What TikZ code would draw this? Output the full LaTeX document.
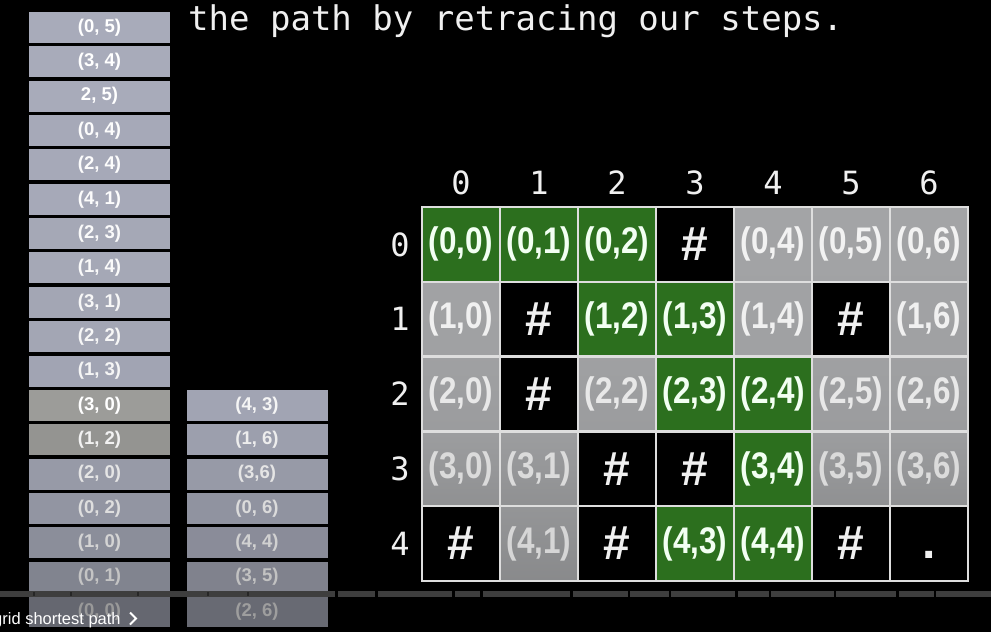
\documentclass[tikz,border=0pt]{standalone}
\usepackage{fontspec}
\setmainfont{Liberation Sans}
\newfontfamily\monofam{DejaVu Sans Mono}
\newfontfamily\narrowfam[FakeStretch=0.85]{Liberation Sans}
\usetikzlibrary{positioning}

\definecolor{stackblue}{RGB}{168,171,186}
\definecolor{stackgray}{RGB}{156,156,153}
\definecolor{pathgreen}{RGB}{44,111,30}
\definecolor{opengray}{RGB}{163,164,166}
\definecolor{gridline}{RGB}{222,222,222}
\definecolor{barfill}{RGB}{62,62,62}

\newcommand\cellmark[2]{\if#1k\#\else\if#1d.\else#2\fi\fi}

\tikzset{
  stackcell/.style={minimum width=141pt, minimum height=31pt, inner sep=0pt,
    font=\bfseries\fontsize{18.5}{20}\selectfont},
  cell/.style={minimum width=78pt, minimum height=74.8pt, inner sep=0pt,
    font=\narrowfam\bfseries\fontsize{37}{40}\selectfont},
  cellg/.style={fill=pathgreen, text=white!95!green},
  cello/.style={top color=opengray!\tl!black, bottom color=opengray!\bl!black, text=white!\tx!black},
  cellk/.style={fill=black, text=white!94!black, font=\bfseries\fontsize{48}{50}\selectfont},
  celld/.style={cellk, text height=30pt, text depth=0pt},
  idx/.style={inner sep=0pt, text=white!94!black, font=\monofam\fontsize{32}{34}\selectfont}
}

\begin{document}
\begin{tikzpicture}[x=1pt,y=-1pt]
	\useasboundingbox (0,0) rectangle (991,632);
	\clip (0,0) rectangle (991,632);
	\fill [black] (0,0) rectangle (991,632);

	\node [idx, anchor=base west, font=\monofam\fontsize{34}{36}\selectfont] (title) at (188,30) {the path by retracing our steps.};

	%pile gauche
	\foreach \lab/\col/\lvl [count=\i from 0] in {{(0, 5)}/stackblue/100, {(3, 4)}/stackblue/100, {2, 5)}/stackblue/100,
	  {(0, 4)}/stackblue/99, {(2, 4)}/stackblue/99, {(4, 1)}/stackblue/99, {(2, 3)}/stackblue/98, {(1, 4)}/stackblue/98,
	  {(3, 1)}/stackblue/97, {(2, 2)}/stackblue/97, {(1, 3)}/stackblue/96, {(3, 0)}/stackgray/100, {(1, 2)}/stackgray/95,
	  {(2, 0)}/stackblue/90, {(0, 2)}/stackblue/87, {(1, 0)}/stackblue/83, {(0, 1)}/stackblue/77, {(0, 0)}/stackblue/60}
	  \node [stackcell, fill=\col!\lvl!black, text=white!\lvl!black] (p\i) at (99.5,{27.5+34.35*\i}) {\lab};

	%pile droite
	\foreach \lab/\lvl [count=\j from 0] in {{(4, 3)}/96, {(1, 6)}/93, {(3,6)}/90, {(0, 6)}/86, {(4, 4)}/82, {(3, 5)}/76, {(2, 6)}/62}
	  \node [stackcell, fill=stackblue!\lvl!black, text=white!\lvl!black] (q\j) at (257,{405.4+34.35*\j}) {\lab};

	%grille
	\foreach \row/\types/\tl/\bl/\tx in {0/{g,g,g,k,o,o,o}/100/99/95, 1/{o,k,g,g,o,k,o}/99/98/94, 2/{o,k,o,g,g,o,o}/98/95/91,
	  3/{o,o,k,k,g,o,o}/96/88/86, 4/{k,o,k,g,g,k,d}/91/84/84}
	  \foreach \t [count=\col from 0] in \types
	    \node [cell, cell\t] (c\row\col) at ({461+78*\col},{244.4+74.8*\row}) {\cellmark{\t}{(\row,\col)}};

	\foreach \k in {1,...,6}
	  \draw [gridline, line width=2.5pt] ({422+78*\k},207) -- ({422+78*\k},581);
	\foreach \k in {1,...,4}
	  \draw [gridline, line width=2.5pt] (422,{207+74.8*\k}) -- (968,{207+74.8*\k});
	\draw [gridline, line width=2.5pt] (422,207) rectangle (968,581);

	\foreach \c in {0,...,6}
	  \node [idx] (h\c) at ({461+78*\c},183) {\c};
	\foreach \r in {0,...,4}
	  \node [idx] (r\r) at (400,{244.4+74.8*\r}) {\r};

	%barre
	\foreach \a/\b in {0/335, 338/375, 378/452, 455/480, 483/570, 573/628, 630/669, 671/735, 738/769, 771/834, 836/896, 899/934, 936/991}
	  \fill [barfill] (\a,591) rectangle (\b,596.5);
	\foreach \a in {33,70,137,207,247}
	  \fill [black!85] (\a,592) rectangle ({\a+1.5},595.5);

	\node [anchor=base west, inner sep=0pt, text=white, font=\fontsize{16.5}{18}\selectfont] (chapter) at (-7,624) {grid shortest path};
	\draw [white, line width=1.8pt] (130,612.5) -- (136,618.5) -- (130,624.5);
\end{tikzpicture}
\end{document}
